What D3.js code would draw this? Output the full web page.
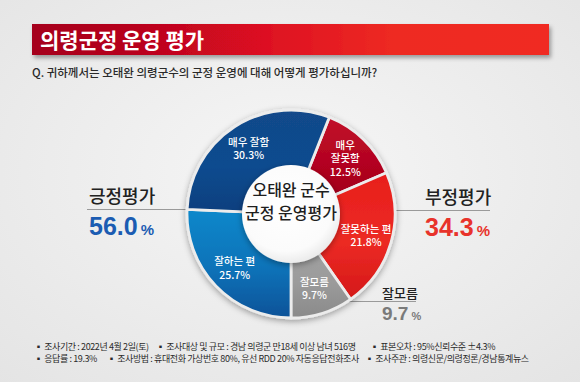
<!DOCTYPE html>
<html><head><meta charset="utf-8">
<script src="https://cdn.jsdelivr.net/npm/d3@7"></script>
<style>
html,body{margin:0;padding:0;background:#efefef;}
svg{display:block;font-family:"Noto Sans CJK KR","Noto Sans",sans-serif;}
</style></head>
<body>
<svg id="c" width="580" height="382"></svg>
<script>
// ---- data ----
const title = "의령군정 운영 평가";
const question = "Q. 귀하께서는 오태완 의령군수의 군정 운영에 대해 어떻게 평가하십니까?";
const categories = ["매우 잘못함", "잘못하는 편", "잘모름", "잘하는 편", "매우 잘함"];
const labelLines = [["매우", "잘못함"], ["잘못하는 편"], ["잘모름"], ["잘하는 편"], ["매우 잘함"]];
const values = [12.5, 21.8, 9.7, 25.7, 30.3];
const centerText = ["오태완 군수", "군정 운영평가"];
const summaryLabels = ["긍정평가", "부정평가", "잘모름"];
const summaryValues = [56.0, 34.3, 9.7];
const footer1 = ["▪ 조사기간 : 2022년 4월 2일(토)", "▪ 조사대상 및 규모 : 경남 의령군 만18세 이상 남녀 516명", "▪ 표본오차 : 95%신뢰수준 ±4.3%"];
const footer2 = ["▪ 응답률 : 19.3%", "▪ 조사방법 : 휴대전화 가상번호 80%, 유선 RDD 20% 자동응답전화조사", "▪ 조사주관 : 의령신문/의령정론/경남통계뉴스"];

const svg = d3.select("#c");
const defs = svg.append("defs");

// background
const bg = defs.append("radialGradient").attr("id","bg").attr("cx","50%").attr("cy","45%").attr("r","75%");
bg.append("stop").attr("offset","0%").attr("stop-color","#f6f6f6");
bg.append("stop").attr("offset","100%").attr("stop-color","#e4e4e4");
svg.append("rect").attr("width",580).attr("height",382).attr("fill","url(#bg)");

// filters
const sh = defs.append("filter").attr("id","sh").attr("x","-20%").attr("y","-20%").attr("width","150%").attr("height","160%");
sh.append("feDropShadow").attr("dx",2).attr("dy",3).attr("stdDeviation",2).attr("flood-color","#000").attr("flood-opacity",0.35);
const sh2 = defs.append("filter").attr("id","sh2").attr("x","-30%").attr("y","-30%").attr("width","160%").attr("height","160%");
sh2.append("feDropShadow").attr("dx",0).attr("dy",2).attr("stdDeviation",3).attr("flood-color","#000").attr("flood-opacity",0.35);

// title bar
const tg = defs.append("linearGradient").attr("id","tg");
tg.append("stop").attr("offset","0%").attr("stop-color","#a5001c");
tg.append("stop").attr("offset","20%").attr("stop-color","#b8001f");
tg.append("stop").attr("offset","45%").attr("stop-color","#dd1020");
tg.append("stop").attr("offset","70%").attr("stop-color","#ee2a22");
tg.append("stop").attr("offset","100%").attr("stop-color","#f02c20");
svg.append("rect").attr("x",32).attr("y",24).attr("width",517).attr("height",31)
  .attr("fill","url(#tg)").attr("filter","url(#sh)");
svg.append("text").attr("x",40).attr("y",47.5).attr("fill","#fff").attr("font-size",21)
  .attr("font-weight",700).text(title);

svg.append("text").attr("x",32).attr("y",77).attr("fill","#2a2a2a").attr("font-size",11.5)
  .attr("font-weight",500).text(question);

// summary leader lines (behind donut)
const lineG = svg.append("g");

// donut
const cx = 291, cy = 214, R = 104, r0 = 49;
const colors = ["#b30320", "#ec2a24", "#9b9b9b", "#0b72b8", "#0f4b8f"];
const colors2 = ["#c1102a", "#e81e1c", "#a3a3a3", "#0a88cb", "#124a8a"];
const colors3 = ["#9e001a", "#d41818", "#8a8a8a", "#0b5298", "#0b3f7e"];
colors.forEach((c,i)=>{
  const g = defs.append("linearGradient").attr("id","g"+i).attr("x1","0").attr("y1","0").attr("x2","0").attr("y2","1");
  g.append("stop").attr("offset","0%").attr("stop-color",colors2[i]);
  g.append("stop").attr("offset","55%").attr("stop-color",c);
  g.append("stop").attr("offset","100%").attr("stop-color",colors3[i]);
});

const start = 2*Math.PI*0.06;
const pie = d3.pie().sort(null).value(d=>d).startAngle(start).endAngle(start+2*Math.PI);
const arcs = pie(values);
const arc = d3.arc().innerRadius(30).outerRadius(R);
const labelArc = d3.arc().innerRadius(78).outerRadius(78);

const dg = svg.append("g").attr("transform",`translate(${cx},${cy})`);
const ringG = dg.append("g").attr("filter","url(#sh2)");
ringG.selectAll("path").data(arcs).join("path")
  .attr("d",arc).attr("fill",(d,i)=>`url(#g${i})`)
  .attr("stroke","#ececec").attr("stroke-width",2.8).attr("stroke-linejoin","round");

// slice labels
const lbl = dg.append("g");
arcs.forEach((a,i)=>{
  const [x,y] = labelArc.centroid(a);
  const lines = labelLines[i].concat([values[i].toFixed(1)+"%"]);
  const lh = 13.5;
  const y0 = y - (lines.length-1)*lh/2 + 4;
  lines.forEach((t,j)=>{
    lbl.append("text").attr("x",x).attr("y",y0+j*lh).attr("text-anchor","middle")
      .attr("fill","#fff").attr("font-size",10.5).attr("font-weight",500).text(t);
  });
});

// center circle
const cg = defs.append("radialGradient").attr("id","cg").attr("cx","45%").attr("cy","40%").attr("r","60%");
cg.append("stop").attr("offset","0%").attr("stop-color","#ffffff");
cg.append("stop").attr("offset","80%").attr("stop-color","#fbfbfb");
cg.append("stop").attr("offset","100%").attr("stop-color","#ececec");
dg.append("circle").attr("r",r0).attr("fill","url(#cg)").attr("filter","url(#sh2)");
centerText.forEach((t,j)=>{
  dg.append("text").attr("x",0).attr("y",-18+j*23).attr("text-anchor","middle")
    .attr("fill","#1e1e1e").attr("font-size",16).attr("font-weight",500).text(t);
});

// summary labels
function summary(xText, yLabel, lineX1, lineX2, yLine, label, val, color, fsL, fsV, fsP, yVal){
  lineG.append("line").attr("x1",lineX1).attr("x2",lineX2).attr("y1",yLine).attr("y2",yLine)
    .attr("stroke","#9a9a9a").attr("stroke-width",1);
  svg.append("text").attr("x",xText).attr("y",yLabel).attr("fill","#222").attr("font-size",fsL)
    .attr("font-weight",500).text(label);
  const t = svg.append("text").attr("x",xText).attr("y",yVal).attr("fill",color).attr("font-weight",700)
    .attr("font-family","'Liberation Sans',Arial,sans-serif");
  t.append("tspan").attr("font-size",fsV).text(val.toFixed(1));
  t.append("tspan").attr("font-size",fsP).attr("dx",3).text("%");
}
summary(89, 203, 87, 200, 209.5, summaryLabels[0], summaryValues[0], "#1b5cb2", 18, 25, 15, 235);
summary(425, 204, 380, 490, 210.5, summaryLabels[1], summaryValues[1], "#e8332b", 18, 25, 15, 236);
summary(382, 298, 340, 416, 301.5, summaryLabels[2], summaryValues[2], "#7a7a7a", 13, 19, 11, 320);

// footer
const fx1 = [34, 156, 370], fx2 = [34, 107, 365];
footer1.forEach((t,i)=>svg.append("text").attr("x",fx1[i]).attr("y",350).attr("font-size",9).attr("fill","#2a2a2a").attr("letter-spacing",-0.4).text(t));
footer2.forEach((t,i)=>svg.append("text").attr("x",fx2[i]).attr("y",362).attr("font-size",9).attr("fill","#2a2a2a").attr("letter-spacing",-0.4).text(t));
</script>
</body></html>
